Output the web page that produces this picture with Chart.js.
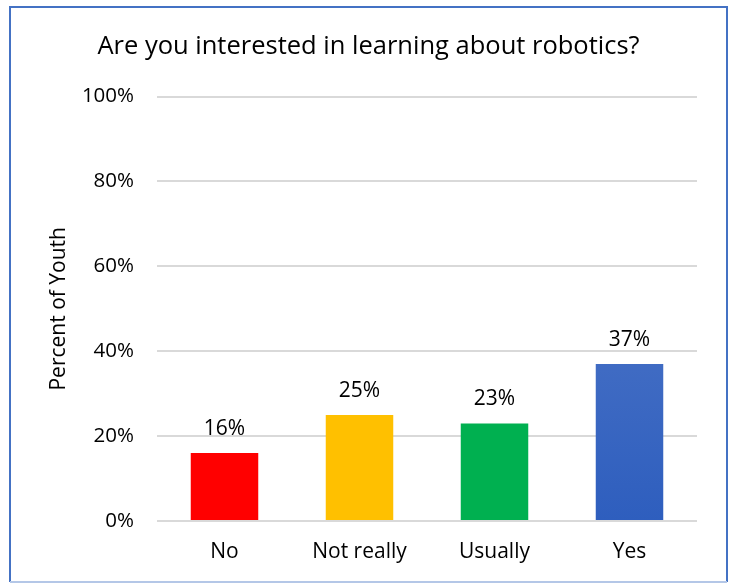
<!DOCTYPE html>
<html>
<head>
<meta charset="utf-8">
<title>Robotics interest</title>
<script src="https://cdn.jsdelivr.net/npm/chart.js@4.4.1/dist/chart.umd.min.js"></script>
<style>
  html, body { margin: 0; padding: 0; background: #fff; }
  #wrap { width: 736px; height: 583px; position: relative; }
</style>
</head>
<body>
<div id="wrap"><canvas id="chart" width="736" height="583"></canvas></div>
<script>
// Survey answers and share of youth per answer (percent)
const answers = ['No', 'Not really', 'Usually', 'Yes'];
const percentYouth = [16, 25, 23, 37];
const barColors = ['#FF0000', '#FFC000', '#00B050', null]; // last one gets a gradient
const yTicks = [0, 20, 40, 60, 80, 100];

const FONT = '"Open Sans", "Noto Sans", sans-serif';

// Frame around the whole chart
const framePlugin = {
    id: 'frame',
    afterDraw(chart) {
        const ctx = chart.ctx;
        ctx.save();
        ctx.strokeStyle = '#4472C4';
        ctx.lineWidth = 2;
        ctx.beginPath();
        ctx.moveTo(10, 582);
        ctx.lineTo(10, 7);
        ctx.lineTo(727, 7);
        ctx.lineTo(727, 582);
        ctx.stroke();
        ctx.strokeStyle = '#B4C7E7';
        ctx.beginPath();
        ctx.moveTo(10, 582);
        ctx.lineTo(727, 582);
        ctx.stroke();
        ctx.restore();
    }
};

// Value labels above each bar
const valueLabels = {
    id: 'valueLabels',
    afterDatasetsDraw(chart) {
        const ctx = chart.ctx;
        const meta = chart.getDatasetMeta(0);
        ctx.save();
        ctx.font = '21px ' + FONT;
        ctx.fillStyle = '#000';
        ctx.textAlign = 'center';
        ctx.textBaseline = 'alphabetic';
        meta.data.forEach((bar, i) => {
            ctx.fillText(percentYouth[i] + '%', bar.x, bar.y - 18);
        });
        ctx.restore();
    }
};

const ctx = document.getElementById('chart').getContext('2d');

function yesGradient(context) {
    const area = context.chart.chartArea;
    if (!area) return '#4472C4';
    const el = context.element;
    const top = el && el.y ? el.y : area.top;
    const g = context.chart.ctx.createLinearGradient(0, top, 0, area.bottom);
    g.addColorStop(0, '#5E82CC');
    g.addColorStop(1, '#2E5EBE');
    return g;
}

new Chart(ctx, {
    type: 'bar',
    data: {
        labels: answers,
        datasets: [{
            data: percentYouth,
            backgroundColor: (c) => barColors[c.dataIndex] || yesGradient(c),
            borderWidth: 0,
            categoryPercentage: 1,
            barPercentage: 0.5
        }]
    },
    options: {
        responsive: false,
        animation: false,
        layout: { padding: { top: 0, left: 40, right: 39, bottom: 0 } },
        plugins: {
            legend: { display: false },
            tooltip: { enabled: false },
            title: {
                display: true,
                text: 'Are you interested in learning about robotics?',
                color: '#000',
                font: { family: FONT, size: 25.5, weight: 'normal' },
                padding: { top: 31, bottom: 35 }
            }
        },
        scales: {
            x: {
                grid: { display: false, drawTicks: false },
                border: { display: false },
                ticks: { color: '#000', font: { family: FONT, size: 21 }, padding: 18 },
                afterFit(scale) { scale.height = 62; }
            },
            y: {
                min: 0,
                max: 100,
                afterBuildTicks(scale) { scale.ticks = yTicks.map(v => ({ value: v })); },
                grid: { color: '#D9D9D9', lineWidth: 2, drawTicks: false },
                border: { display: false },
                ticks: {
                    color: '#000',
                    font: { family: FONT, size: 20.5 },
                    padding: 23,
                    callback: (v) => v + '%'
                },
                title: {
                    display: true,
                    text: 'Percent of Youth',
                    color: '#000',
                    font: { family: FONT, size: 21 },
                    padding: { top: 6, bottom: 0 }
                },
                afterFit(scale) { scale.width = 117; }
            }
        }
    },
    plugins: [framePlugin, valueLabels]
});
</script>
</body>
</html>
